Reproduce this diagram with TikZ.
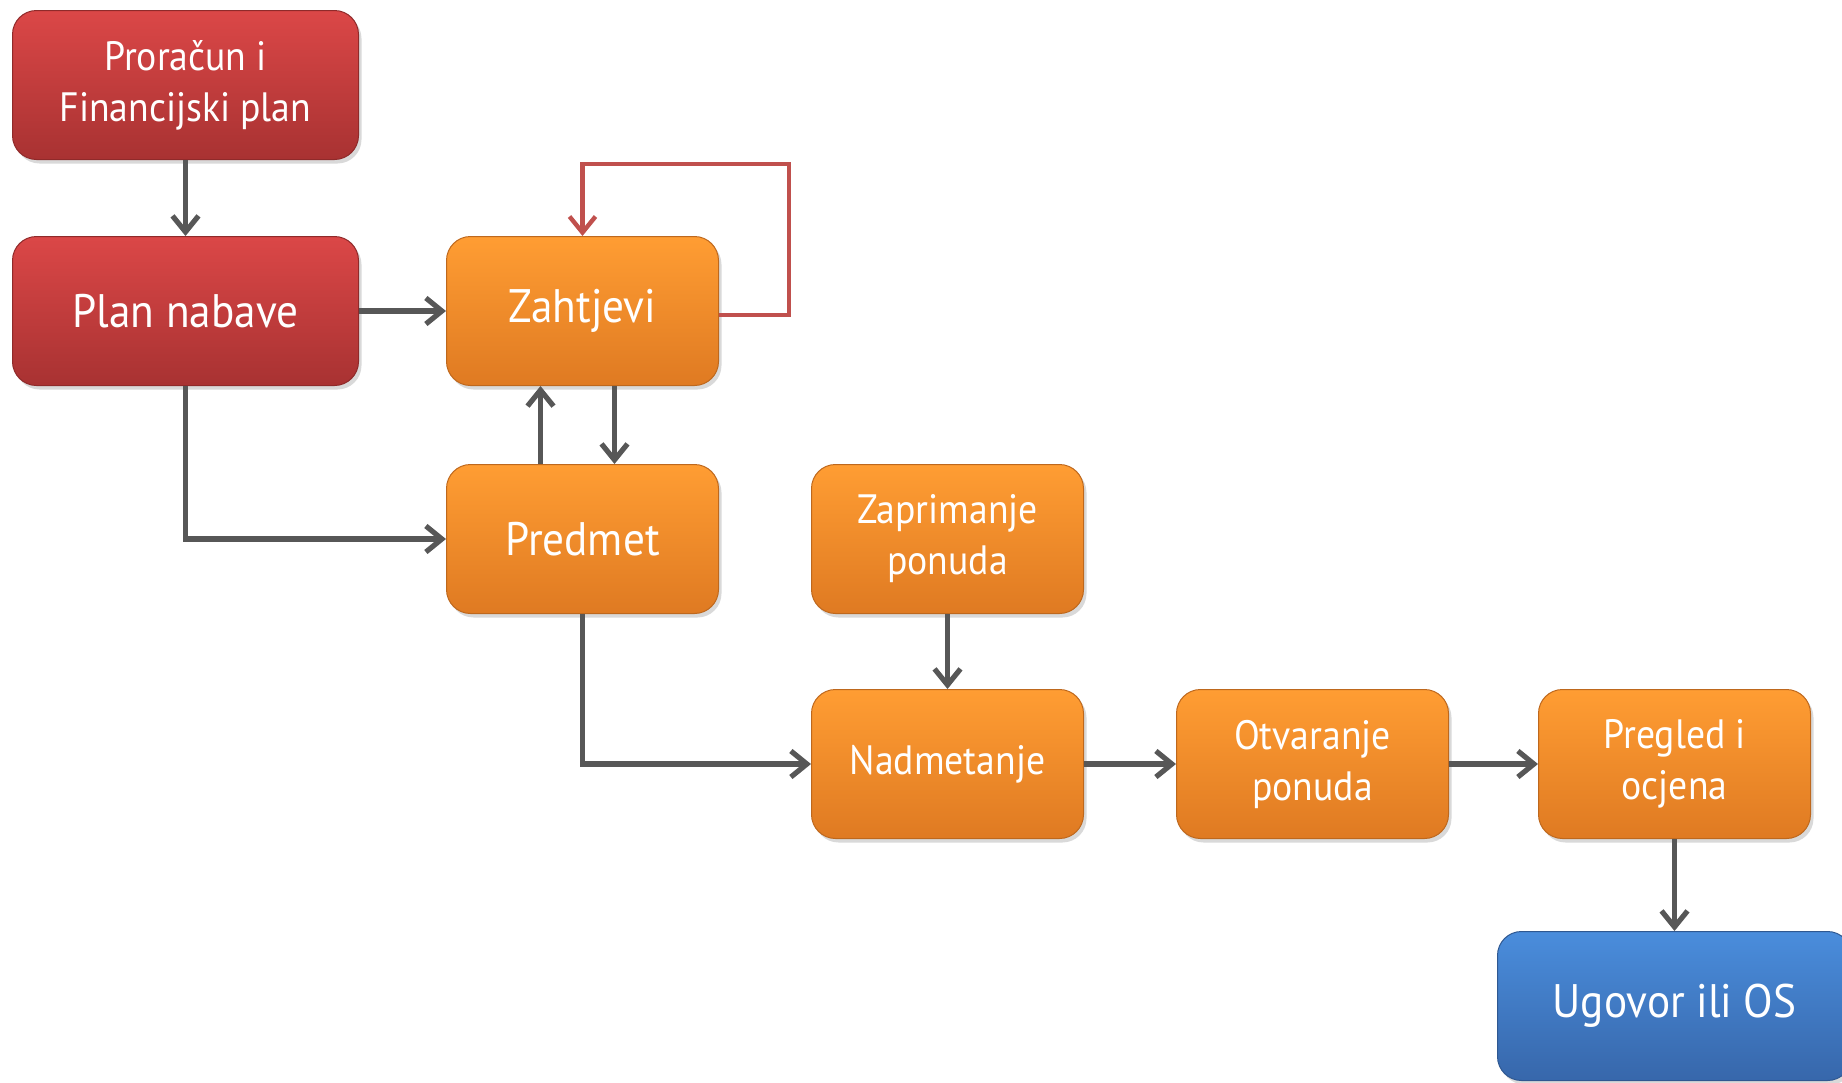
\documentclass[tikz,border=0pt]{standalone}
\usepackage{fontspec}
\setmainfont[FakeStretch=0.92]{PT Sans}
\usetikzlibrary{positioning,arrows.meta,shadows}

\definecolor{redtop}{HTML}{DB4747}
\definecolor{redbot}{HTML}{A83232}
\definecolor{orgtop}{HTML}{FF9D33}
\definecolor{orgbot}{HTML}{DF7A22}
\definecolor{bluetop}{HTML}{4A8DDC}
\definecolor{bluebot}{HTML}{3767AB}
\definecolor{linegray}{HTML}{575757}
\definecolor{loopred}{HTML}{C0504D}

\tikzset{
    box/.style={rectangle, rounded corners=12pt, minimum height=74.5pt, inner sep=4pt,
        text=white, align=center, font=\fontsize{20.5}{25.5}\selectfont, line width=0.5pt,
        drop shadow={shadow xshift=1.5pt, shadow yshift=-2pt, opacity=0.3}},
    bigtext/.style={font=\fontsize{23.5}{29}\selectfont},
    redbox/.style={box, minimum width=173pt, top color=redtop, bottom color=redbot, draw=redbot!85!black},
    orgbox/.style={box, minimum width=136pt, top color=orgtop, bottom color=orgbot, draw=orgbot!85!black},
    bluebox/.style={box, minimum width=177pt, top color=bluetop, bottom color=bluebot, draw=bluebot!85!black},
    flow/.style={draw=linegray, line width=2.6pt, -{Straight Barb[length=8pt, width=13pt]}},
    loopback/.style={draw=loopred, line width=2.2pt, -{Straight Barb[length=8pt, width=13pt]}}
}

\begin{document}
\begin{tikzpicture}
    \useasboundingbox (-6pt,5pt) rectangle (915pt,-536pt);

    \node [redbox, anchor=north west](budget) at (0,0) {Proračun i\\Financijski plan};
    \node [redbox, bigtext, below=38pt of budget](plan) {Plan nabave};
    \draw [flow] (budget) -- (plan);

    \node [orgbox, bigtext, right=43.5pt of plan](req) {Zahtjevi};
    \draw [flow] (plan) -- (req);
    \draw [loopback] ([yshift=-2pt]req.east) -- ++(35pt,0) |- ([yshift=36pt]req.north) -- (req.north);

    \node [orgbox, bigtext, below=39pt of req](subj) {Predmet};
    \draw [flow] (plan.south) |- (subj.west);
    \draw [flow] ([xshift=-21pt]subj.north) -- ([xshift=-21pt]req.south);
    \draw [flow] ([xshift=16pt]req.south) -- ([xshift=16pt]subj.north);

    \node [orgbox, right=46pt of subj](recv) {Zaprimanje\\ponuda};
    \node [orgbox, below=37.5pt of recv](tender) {Nadmetanje};
    \draw [flow] (recv) -- (tender);
    \draw [flow] (subj.south) |- (tender.west);

    \node [orgbox, right=46pt of tender](open) {Otvaranje\\ponuda};
    \draw [flow] (tender) -- (open);

    \node [orgbox, right=44.5pt of open](review) {Pregled i\\ocjena};
    \draw [flow] (open) -- (review);

    \node [bluebox, bigtext, below=46pt of review](contract) {Ugovor ili OS};
    \draw [flow] (review) -- (contract);
\end{tikzpicture}
\end{document}
